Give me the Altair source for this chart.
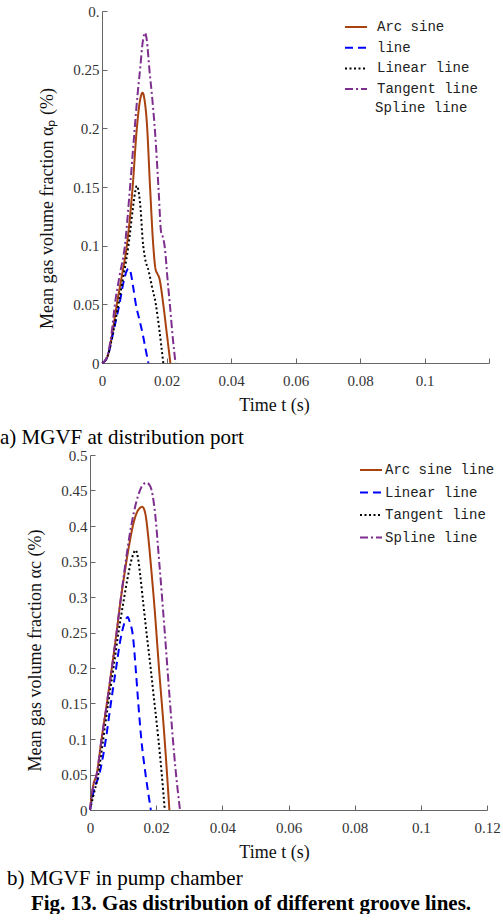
import altair as alt
import pandas as pd

SERIES = ["Arc sine line", "Linear line", "Tangent line", "Spline line"]
COLORS = ["#A8420E", "#0000FF", "#000000", "#7E2F8E"]
DASHES = [[1, 0], [8, 5], [2, 2.5], [8, 3, 2, 3]]

X_TICKS = [0, 0.02, 0.04, 0.06, 0.08, 0.1, 0.12]
YA_TICKS = [0, 0.05, 0.1, 0.15, 0.2, 0.25, 0.3]
YB_TICKS = [0, 0.05, 0.1, 0.15, 0.2, 0.25, 0.3, 0.35, 0.4, 0.45, 0.5]

# ---- a) MGVF at distribution port ----
a_arc_t = [0, 0.001, 0.002, 0.003, 0.0046, 0.0062, 0.0077, 0.0095, 0.0108, 0.0118, 0.0126, 0.0132, 0.0139, 0.0149, 0.0159, 0.0166, 0.0172, 0.0178, 0.0190, 0.0201, 0.0212]
a_arc_v = [0, 0.002, 0.008, 0.022, 0.05, 0.075, 0.1, 0.15, 0.2, 0.224, 0.2304, 0.224, 0.205, 0.15, 0.1, 0.08, 0.076, 0.072, 0.05, 0.025, 0]
a_lin_t = [0, 0.001, 0.002, 0.003, 0.0042, 0.0054, 0.0066, 0.0076, 0.0082, 0.0088, 0.0096, 0.0105, 0.0115, 0.0126, 0.0135, 0.0144]
a_lin_v = [0, 0.002, 0.008, 0.02, 0.035, 0.05, 0.068, 0.078, 0.0806, 0.078, 0.066, 0.05, 0.038, 0.025, 0.012, 0]
a_tan_t = [0, 0.001, 0.002, 0.003, 0.0051, 0.0067, 0.0082, 0.0095, 0.0103, 0.0108, 0.0113, 0.0120, 0.0126, 0.0133, 0.0145, 0.0155, 0.0167, 0.0177, 0.0190]
a_tan_v = [0, 0.002, 0.008, 0.02, 0.05, 0.075, 0.1, 0.13, 0.146, 0.151, 0.147, 0.13, 0.105, 0.09, 0.078, 0.065, 0.05, 0.03, 0]
a_spl_t = [0, 0.001, 0.002, 0.003, 0.004, 0.0055, 0.0071, 0.0087, 0.0100, 0.0110, 0.0118, 0.0127, 0.0133, 0.0139, 0.0147, 0.0156, 0.0165, 0.0176, 0.0183, 0.0189, 0.0195, 0.0203, 0.0212, 0.0220, 0.0228]
a_spl_v = [0, 0.002, 0.01, 0.026, 0.05, 0.075, 0.1, 0.15, 0.195, 0.228, 0.25, 0.275, 0.2815, 0.275, 0.25, 0.225, 0.195, 0.145, 0.112, 0.107, 0.098, 0.072, 0.045, 0.02, 0]

# ---- b) MGVF in pump chamber ----
b_arc_t = [0, 0.001, 0.002, 0.0035, 0.0051, 0.0066, 0.0079, 0.0091, 0.0105, 0.0119, 0.0132, 0.0145, 0.0158, 0.0167, 0.0176, 0.0185, 0.0194, 0.0209, 0.0225, 0.0240]
b_arc_v = [0, 0.035, 0.05, 0.1, 0.15, 0.2, 0.245, 0.29, 0.335, 0.375, 0.405, 0.422, 0.427, 0.418, 0.385, 0.34, 0.291, 0.197, 0.103, 0]
b_lin_t = [0, 0.0013, 0.0028, 0.0048, 0.0063, 0.0079, 0.0092, 0.0103, 0.0110, 0.0114, 0.0120, 0.0130, 0.0138, 0.0146, 0.0155, 0.0168, 0.0184]
b_lin_v = [0, 0.03, 0.05, 0.1, 0.15, 0.2, 0.24, 0.262, 0.27, 0.272, 0.265, 0.244, 0.2, 0.15, 0.1, 0.05, 0]
b_tan_t = [0, 0.001, 0.0025, 0.004, 0.0055, 0.0071, 0.0086, 0.0100, 0.0113, 0.0124, 0.0132, 0.0138, 0.0145, 0.0152, 0.0161, 0.0172, 0.0184, 0.0195, 0.0206, 0.0217, 0.0226]
b_tan_v = [0, 0.02, 0.05, 0.1, 0.15, 0.2, 0.25, 0.29, 0.325, 0.35, 0.362, 0.366, 0.355, 0.33, 0.291, 0.245, 0.197, 0.15, 0.103, 0.05, 0]
b_spl_t = [0, 0.001, 0.002, 0.0035, 0.0051, 0.0066, 0.0079, 0.0091, 0.0105, 0.0119, 0.0132, 0.0145, 0.0158, 0.0171, 0.0183, 0.0195, 0.0210, 0.0227, 0.0242, 0.0258, 0.0272]
b_spl_v = [0, 0.035, 0.05, 0.1, 0.15, 0.2, 0.245, 0.29, 0.34, 0.385, 0.418, 0.442, 0.457, 0.461, 0.455, 0.425, 0.345, 0.244, 0.150, 0.06, 0]

CAPTION_A = "a) MGVF at distribution port"
CAPTION_B = "b) MGVF in pump chamber"
FIG_TITLE = "Fig. 13. Gas distribution of different groove lines."
EXTRA_LEGEND_A = "Spline line"


def long_df(groups):
    rows = []
    for name, ts, vs in groups:
        for t, v in zip(ts, vs):
            rows.append({"series": name, "t": t, "v": v})
    return pd.DataFrame(rows)


df_a = long_df([(SERIES[0], a_arc_t, a_arc_v), (SERIES[1], a_lin_t, a_lin_v),
                (SERIES[2], a_tan_t, a_tan_v), (SERIES[3], a_spl_t, a_spl_v)])
df_b = long_df([(SERIES[0], b_arc_t, b_arc_v), (SERIES[1], b_lin_t, b_lin_v),
                (SERIES[2], b_tan_t, b_tan_v), (SERIES[3], b_spl_t, b_spl_v)])

SERIF = "Liberation Serif"
MONO = "Liberation Mono"
AX_COL = "#666666"
LAB_COL = "#333333"


def panel(df, width, height, x_range, y_dom, y_ticks, y_title, y_off, y_label_expr,
          x_label_expr, legend_x, legend_y, label_offset, row_pad, legend_label_expr):
    xs = alt.Scale(domain=[0, 0.12], range=x_range, nice=False, zero=False)
    ys = alt.Scale(domain=y_dom, nice=False, zero=False)
    legend_kw = dict(title=None, orient="none", legendX=legend_x, legendY=legend_y,
                     symbolType="stroke", symbolSize=484, symbolStrokeWidth=2,
                     labelFont=MONO, labelFontSize=14, labelColor="#222222",
                     labelOffset=label_offset, rowPadding=row_pad, padding=0)
    if legend_label_expr:
        legend_kw["labelExpr"] = legend_label_expr
    leg = alt.Legend(**legend_kw)
    xaxis = alt.Axis(values=X_TICKS, format=".2~f", title="Time t (s)", ticks=False, tickSize=0,
                     labelPadding=10, labelFont=SERIF, labelFontSize=15, labelColor=LAB_COL,
                     titleFont=SERIF, titleFontSize=18, titleFontWeight="normal", titleColor="#111111",
                     titleX=184, titleY=42, titleBaseline="middle", titleAlign="center",
                     domainColor=AX_COL, grid=False, labelFlush=False,
                     **({"labelExpr": x_label_expr} if x_label_expr else {}))
    yaxis = alt.Axis(values=y_ticks, format=".2~f", title=y_title, ticks=False, tickSize=0,
                     labelPadding=3, labelFont=SERIF, labelFontSize=15, labelColor=LAB_COL,
                     titleFont=SERIF, titleFontSize=18, titleFontWeight="normal", titleColor="#111111",
                     titleX=-55, titleY=y_off, titleBaseline="middle", titleAlign="center", titleAngle=270,
                     domainColor=AX_COL, grid=False, labelFlush=False,
                     offset=-x_range[0],
                     **({"labelExpr": y_label_expr} if y_label_expr else {}))
    lines = alt.Chart(df).mark_line(strokeWidth=2, interpolate="monotone").encode(
        x=alt.X("t:Q", scale=xs, axis=xaxis),
        y=alt.Y("v:Q", scale=ys, axis=yaxis),
        color=alt.Color("series:N", scale=alt.Scale(domain=SERIES, range=COLORS), sort=SERIES, legend=leg),
        strokeDash=alt.StrokeDash("series:N", scale=alt.Scale(domain=SERIES, range=DASHES), sort=SERIES, legend=leg),
    )
    ticks = alt.Chart(df).mark_point(opacity=0).encode(
        x=alt.X("t:Q", scale=xs, axis=alt.Axis(orient="top", values=X_TICKS, labels=False, domain=False,
                                               ticks=True, tickSize=5, tickColor=AX_COL, title=None,
                                               grid=False, offset=-height)),
        y=alt.Y("v:Q", scale=ys, axis=alt.Axis(orient="right", values=y_ticks, labels=False, domain=False,
                                               ticks=True, tickSize=5, tickColor=AX_COL, title=None,
                                               grid=False, offset=-(width - x_range[0]))),
    )
    return lines, ticks


def text_layer(txt, x, y, size, weight="normal", align="left", font=SERIF, color="#000000"):
    return alt.Chart(pd.DataFrame({"s": [txt]})).mark_text(
        align=align, baseline="alphabetic", font=font, fontSize=size, fontWeight=weight, color=color
    ).encode(text="s:N", x=alt.value(x), y=alt.value(y))


WA, HA = 399, 352
lines_a, ticks_a = panel(
    df_a, WA, HA, [12, WA], [0, 0.3], YA_TICKS, "Mean gas volume fraction αₚ (%)", 197,
    "datum.value > 0.29 ? '0.' : datum.label", "datum.value > 0.11 ? '' : datum.label",
    254, 4, 9, 1.7,
    "datum.label == 'Arc sine line' ? 'Arc sine' : datum.label == 'Linear line' ? 'line' : "
    "datum.label == 'Tangent line' ? 'Linear line' : 'Tangent line'")
panel_a = alt.layer(
    lines_a, ticks_a,
    text_layer(EXTRA_LEGEND_A, 285, 101, 14, font=MONO, color="#222222"),
    text_layer(CAPTION_A, -90, 433, 21),
).resolve_axis(x="independent", y="independent").properties(width=WA, height=HA)

WB, HB = 397, 355
lines_b, ticks_b = panel(
    df_b, WB, HB, [0, WB], [0, 0.5], YB_TICKS, "Mean gas volume fraction αc (%)", 195,
    None, None, 269, 3, 2, 3.5, None)
panel_b = alt.layer(
    lines_b, ticks_b,
    text_layer(CAPTION_B, -83, 430, 21),
    text_layer(FIG_TITLE, 161, 455, 21, weight="bold", align="center"),
).resolve_axis(x="independent", y="independent").properties(width=WB, height=HB)

chart = alt.vconcat(panel_a, panel_b, spacing=92, bounds="flush").resolve_scale(
    color="independent", strokeDash="independent"
).resolve_legend(color="independent", strokeDash="independent").properties(
    padding={"left": 0, "top": 4, "right": 0, "bottom": 0}
).configure_view(strokeWidth=0)

chart.save("out.html", embed_options={"renderer": "svg", "actions": False})
